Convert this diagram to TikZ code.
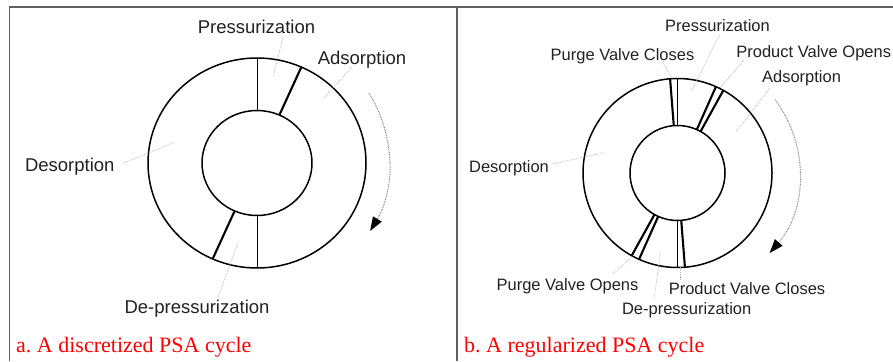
\documentclass[tikz,border=0pt]{standalone}
\usepackage{fontspec}
\setmainfont{Liberation Serif}
\newfontfamily\labelfont{Liberation Sans}
\usetikzlibrary{arrows.meta}
\definecolor{framegray}{HTML}{606060}
\definecolor{labelgray}{HTML}{222222}
\definecolor{leadergray}{HTML}{A8A8A8}
\frenchspacing
\tikzset{
  frameline/.style={draw=framegray, line width=1.4pt},
  ring/.style={draw=black, line width=1.5pt},
  thickcut/.style={draw=black, line width=2.1pt},
  thincut/.style={draw=black, line width=0.9pt},
  leader/.style={draw=leadergray, line width=0.6pt, dash pattern=on 0.8pt off 1pt},
  flow/.style={draw=gray, line width=1pt, dash pattern=on 0.8pt off 0.9pt,
    -{Triangle[length=14pt,width=10pt,black]}},
  biglabel/.style={font=\labelfont\fontsize{18.5}{20}\selectfont, text=labelgray, anchor=base, inner sep=0pt},
  smalllabel/.style={font=\labelfont\fontsize{16.5}{18}\selectfont, text=labelgray, anchor=base, inner sep=0pt},
  caption/.style={font=\fontsize{22}{24}\selectfont, text=red, anchor=base west, inner sep=0pt}
}
\begin{document}
\begin{tikzpicture}[x=1pt, y=-1pt]
\useasboundingbox (0,0) rectangle (893,361);
\fill[white] (0,0) rectangle (893,361);

% panel frame
\coordinate (tl) at (9.5,7);
\coordinate (tr) at (893,7);
\coordinate (bl) at (9.5,361);
\coordinate (dt) at (457,7);
\coordinate (db) at (457,361);
\draw[frameline] (bl) -- (tl) -- (tr);
\draw[frameline] (dt) -- (db);

% ---------------- discretized cycle ----------------
\coordinate (cL) at (257,163);
\draw[ring] (cL) ellipse [x radius=109pt, y radius=105pt];
\draw[ring] (cL) ellipse [x radius=55pt, y radius=52.5pt];
\draw[thincut] ([shift={(90:55pt and 52.5pt)}]cL) -- ([shift={(90:109pt and 105pt)}]cL);
\draw[thickcut] ([shift={(66:55pt and 52.5pt)}]cL) -- ([shift={(66:109pt and 105pt)}]cL);
\draw[thincut] ([shift={(270:55pt and 52.5pt)}]cL) -- ([shift={(270:109pt and 105pt)}]cL);
\draw[thickcut] ([shift={(246:55pt and 52.5pt)}]cL) -- ([shift={(246:109pt and 105pt)}]cL);
\draw[flow] ([shift={(32:132pt)}]cL) arc[start angle=32, end angle=-31, radius=132pt];

\node[biglabel] (aPress) at (256.5,34) {Pressurization};
\node[biglabel] (aAds) at (362,64.5) {Adsorption};
\node[biglabel] (aDes) at (69.8,171.5) {Desorption};
\node[biglabel] (aDep) at (197,313.5) {De-pressurization};
\coordinate (aPressA) at (283,37);  \coordinate (aPressB) at (273,77);
\coordinate (aAdsA) at (352,67);    \coordinate (aAdsB) at (323,99);
\coordinate (aDesA) at (124,163);   \coordinate (aDesB) at (175,142);
\coordinate (aDepA) at (218,297);   \coordinate (aDepB) at (238,243);
\draw[leader] (aPressA) -- (aPressB);
\draw[leader] (aAdsA) -- (aAdsB);
\draw[leader] (aDesA) -- (aDesB);
\draw[leader] (aDepA) -- (aDepB);

\node[caption] (capA) at (16,352) {a. A discretized PSA cycle};

% ---------------- regularized cycle ----------------
\coordinate (cR) at (677.5,173);
\draw[ring] (cR) circle [radius=94.5pt];
\draw[ring] (cR) circle [radius=47.5pt];
\foreach \a in {90,270}
  \draw[thincut] ([shift={(\a:47.5pt)}]cR) -- ([shift={(\a:94.5pt)}]cR);
\foreach \a in {94.5,66,61,241,246,274.5}
  \draw[thickcut] ([shift={(\a:47.5pt)}]cR) -- ([shift={(\a:94.5pt)}]cR);
\draw[flow] ([shift={(37:122pt)}]cR) arc[start angle=37, end angle=-41, radius=122pt];

\node[smalllabel] (bPress) at (717.5,32) {Pressurization};
\node[smalllabel] (bPvc) at (622.5,60) {Purge Valve Closes};
\node[smalllabel] (bPdo) at (813.7,57.6) {Product Valve Opens};
\node[smalllabel] (bAds) at (801.5,82.6) {Adsorption};
\node[smalllabel] (bDes) at (509,172) {Desorption};
\node[smalllabel] (bPvo) at (567.5,290) {Purge Valve Opens};
\node[smalllabel] (bPdc) at (747,294) {Product Valve Closes};
\node[smalllabel] (bDep) at (686.7,314) {De-pressurization};
\coordinate (bPressA) at (719.3,35);  \coordinate (bPressB) at (691.7,91);
\coordinate (bPvcA) at (662,62);      \coordinate (bPvcB) at (673,79);
\coordinate (bPdoA) at (744,60);      \coordinate (bPdoB) at (720,88);
\coordinate (bAdsA) at (770,88);      \coordinate (bAdsB) at (736,131.7);
\coordinate (bDesA) at (553,164);     \coordinate (bDesB) at (604,152.7);
\coordinate (bPvoA) at (613,274);     \coordinate (bPvoB) at (633,256);
\coordinate (bPdcA) at (680,280);     \coordinate (bPdcB) at (680,267);
\coordinate (bDepA) at (654,298);     \coordinate (bDepB) at (660.7,252.7);
\draw[leader] (bPressA) -- (bPressB);
\draw[leader] (bPvcA) -- (bPvcB);
\draw[leader] (bPdoA) -- (bPdoB);
\draw[leader] (bAdsA) -- (bAdsB);
\draw[leader] (bDesA) -- (bDesB);
\draw[leader] (bPvoA) -- (bPvoB);
\draw[leader] (bPdcA) -- (bPdcB);
\draw[leader] (bDepA) -- (bDepB);

\node[caption] (capB) at (464,352) {b. A regularized PSA cycle};
\end{tikzpicture}
\end{document}
